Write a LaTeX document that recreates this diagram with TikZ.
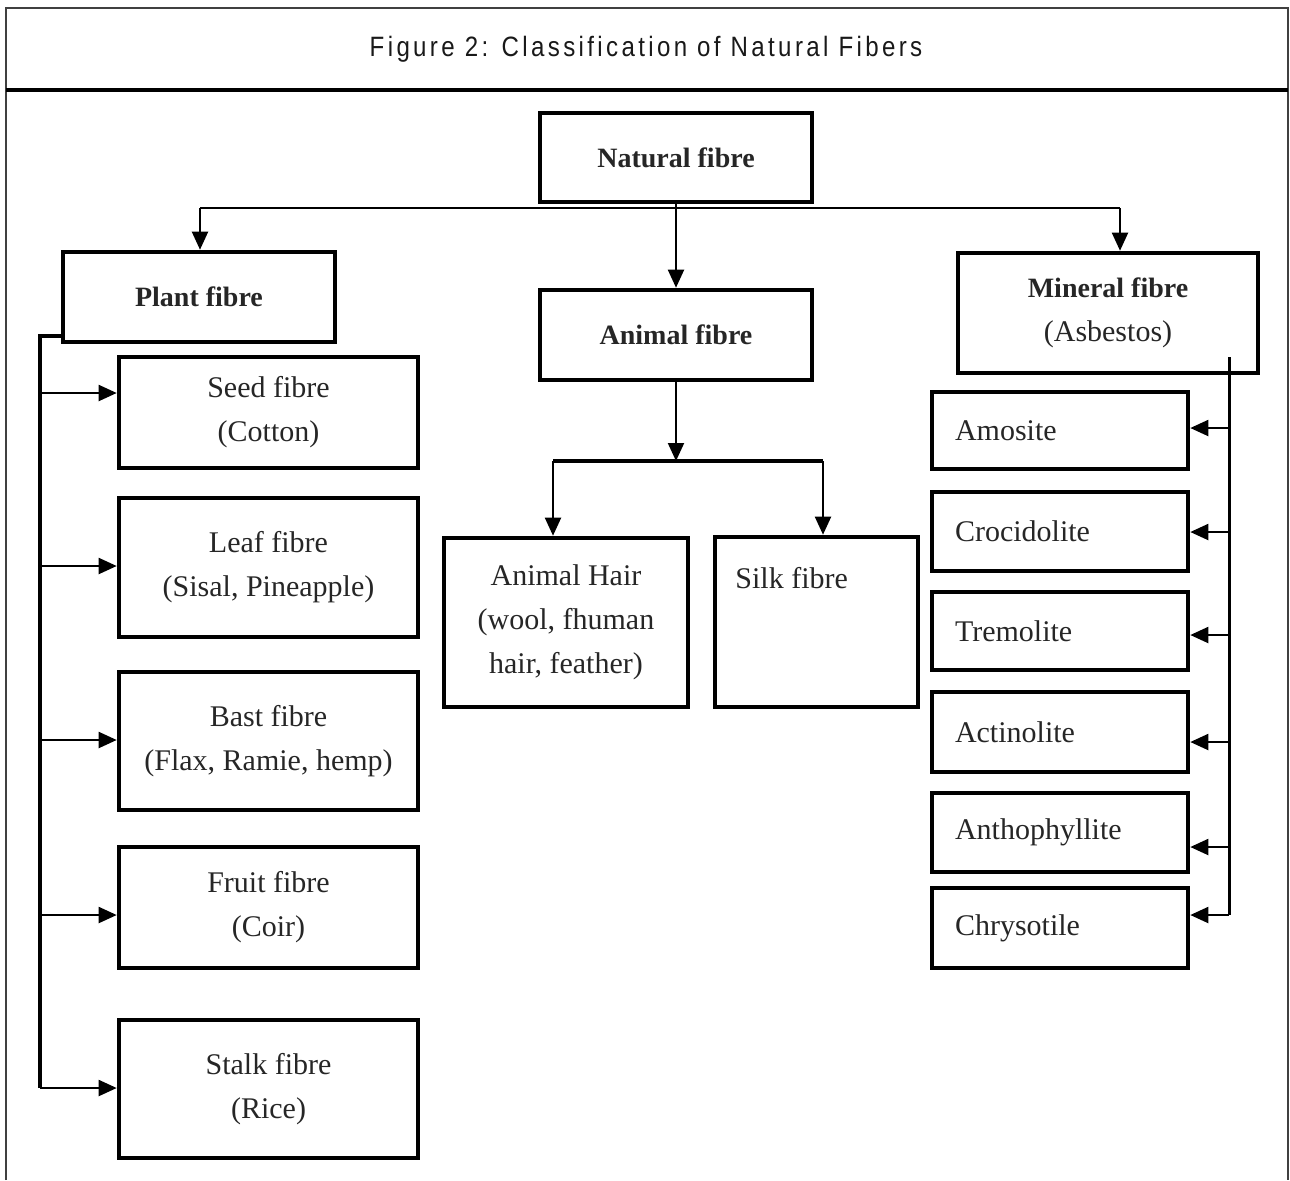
\documentclass[tikz,border=0pt]{standalone}
\usepackage{fontspec}
\setmainfont{Liberation Serif}
\newfontfamily\titlefont[FakeStretch=0.86,LetterSpace=12]{Liberation Sans}
\usetikzlibrary{arrows.meta}
\begin{document}
\begin{tikzpicture}[x=0.5pt,y=-0.5pt,
  box/.style={draw, line width=2.3pt, text=black!85, align=center, inner sep=0pt,
    font=\fontsize{15}{22}\selectfont},
  headbox/.style={box, font=\fontsize{14}{22}\selectfont\bfseries},
  mbox/.style={box, align=left, text width=105pt, inner xsep=11.5pt,
    minimum width=128pt},
  pbox/.style={box, minimum width=149.5pt},
  conn/.style={line width=1pt},
  arr/.style={line width=1pt, -{Triangle[length=9pt,width=8pt]}},
  spine/.style={line width=2pt},
  frame/.style={line width=1pt, draw=black!75}]
\useasboundingbox (0,0) rectangle (1290,1180);
% outer frame and title
\draw[frame] (6,1180) -- (6,8) -- (1288,8) -- (1288,1180);
\draw[line width=1.6pt] (6,90) -- (1288,90);
\node[font=\titlefont\fontsize{14}{16}\selectfont, text=black!90] (title) at (646,49) {Figure 2: Classification of Natural Fibers};
% top level
\node[headbox, minimum width=136pt, minimum height=44.5pt] (nat) at (676,157.5) {Natural fibre};
\node[headbox, minimum width=136pt, minimum height=45pt] (plant) at (199,297) {Plant fibre};
\node[headbox, minimum width=136pt, minimum height=45pt] (animal) at (676,335) {Animal fibre};
\node[box, minimum width=150pt, minimum height=60pt] (mineral) at (1108,313) {{\bfseries\fontsize{14}{22}\selectfont Mineral fibre}\\(Asbestos)};
% plant children
\node[pbox, minimum height=55.5pt] (seed) at (268.5,412.5) {Seed fibre\\(Cotton)};
\node[pbox, minimum height=69.5pt] (leaf) at (268.5,567.5) {Leaf fibre\\(Sisal, Pineapple)};
\node[pbox, minimum height=69pt] (bast) at (268.5,741) {Bast fibre\\(Flax, Ramie, hemp)};
\node[pbox, minimum height=60.5pt] (fruit) at (268.5,907.5) {Fruit fibre\\(Coir)};
\node[pbox, minimum height=69pt] (stalk) at (268.5,1089) {Stalk fibre\\(Rice)};
% animal children
\node[box, minimum width=122pt, minimum height=84.5pt] (hair) at (566,622.5) {Animal Hair\\(wool, fhuman\\hair, feather)};
\node[box, minimum width=101.5pt, minimum height=85pt] (silk) at (816.5,622) {};
\node[anchor=west, inner sep=0pt, text=black!85, font=\fontsize{15}{22}\selectfont] (silktext) at (735,578) {Silk fibre};
% mineral children
\node[mbox, minimum height=38.5pt] (amo) at (1060,430.5) {Amosite};
\node[mbox, minimum height=39.5pt] (cro) at (1060,531.5) {Crocidolite};
\node[mbox, minimum height=39pt] (tre) at (1060,631) {Tremolite};
\node[mbox, minimum height=40pt] (act) at (1060,732) {Actinolite};
\node[mbox, minimum height=39.5pt] (ant) at (1060,832.5) {Anthophyllite};
\node[mbox, minimum height=40pt] (chr) at (1060,928) {Chrysotile};
% top bus
\coordinate (busL) at (200,208);
\coordinate (busR) at (1120,208);
\coordinate (busM) at (676,208);
\draw[conn] (busL) -- (busR);
\draw[conn] (nat.south) -- (busM);
\draw[arr] (busL) -- (busL |- plant.north);
\draw[arr] (busM) -- (animal.north);
\draw[arr] (busR) -- (busR |- mineral.north);
% animal branch
\coordinate (abr) at (676,461);
\coordinate (abrL) at (553,461);
\coordinate (abrR) at (823,461);
\draw[arr] (animal.south) -- (abr);
\draw[line width=2pt] (abrL) -- (abrR);
\draw[arr] (abrL) -- (abrL |- hair.north);
\draw[arr] (abrR) -- (abrR |- silk.north);
% plant spine
\coordinate (p0) at (40,336);
\coordinate (p1) at (40,393);
\coordinate (p2) at (40,566);
\coordinate (p3) at (40,740);
\coordinate (p4) at (40,915);
\coordinate (p5) at (40,1088);
\draw[spine] (p0 -| plant.west) -- (p0) -- (p5);
\draw[arr] (p1) -- (p1 -| seed.west);
\draw[arr] (p2) -- (p2 -| leaf.west);
\draw[arr] (p3) -- (p3 -| bast.west);
\draw[arr] (p4) -- (p4 -| fruit.west);
\draw[arr] (p5) -- (p5 -| stalk.west);
% mineral spine
\coordinate (m0) at (1229,357);
\coordinate (m1) at (1229,428);
\coordinate (m2) at (1229,532);
\coordinate (m3) at (1229,635);
\coordinate (m4) at (1229,742);
\coordinate (m5) at (1229,847);
\coordinate (m6) at (1229,915);
\draw[line width=1.5pt] (m0) -- (m6);
\draw[arr] (m1) -- (m1 -| amo.east);
\draw[arr] (m2) -- (m2 -| cro.east);
\draw[arr] (m3) -- (m3 -| tre.east);
\draw[arr] (m4) -- (m4 -| act.east);
\draw[arr] (m5) -- (m5 -| ant.east);
\draw[arr] (m6) -- (m6 -| chr.east);
\end{tikzpicture}
\end{document}
